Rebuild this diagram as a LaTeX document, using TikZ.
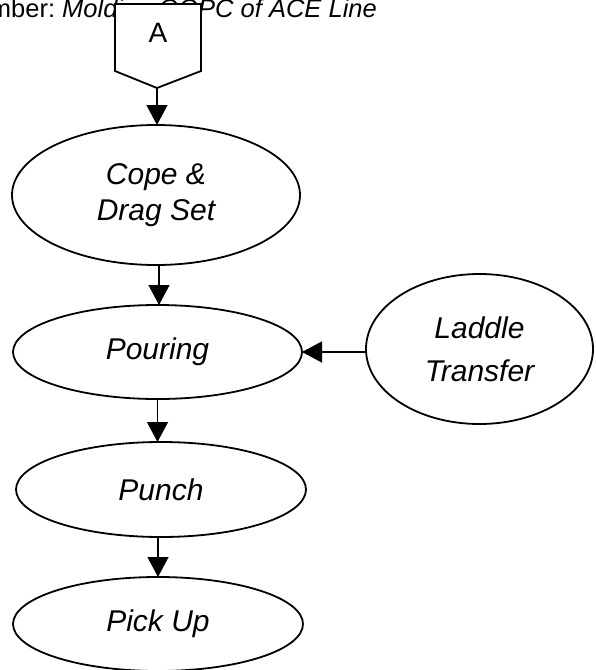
\documentclass[tikz,border=0pt]{standalone}
\usepackage{fontspec}
\setmainfont{Liberation Sans}
\usetikzlibrary{shapes.geometric,arrows.meta}

\tikzset{
  stage/.style={ellipse, draw, line width=1.8pt, fill=white, inner sep=0pt, outer sep=0pt,
    align=center, font=\fontsize{30}{36}\selectfont\itshape},
  flow/.style={line width=1.3pt, -{Triangle[width=21pt,length=20pt]}},
  connector/.style={line width=1.8pt, fill=white, line join=miter},
}

\begin{document}
\begin{tikzpicture}[x=1pt,y=-1pt]
  \useasboundingbox (0,0) rectangle (595,670);
  \clip (0,0) rectangle (595,670);

  % page heading (runs under the off-page connector)
  \node[anchor=base west, inner sep=0pt, font=\fontsize{25.5}{30}\selectfont]
    (heading) at (62,17) {\llap{Number:\ }\textit{Molding OOPC of ACE Line}};

  % off-page connector "A"
  \draw[connector] (115,4) -- (201,4) -- (201,71) -- (157,88) -- (115,71) -- cycle;
  \node[font=\fontsize{28}{30}\selectfont, inner sep=0pt] (A) at (158,33) {A};
  \coordinate (Atip) at (157,88);

  % process stages
  \node[stage, minimum width=288pt, minimum height=140pt] (cope) at (156,195) {Cope \&\\Drag Set};
  \node[stage, minimum width=289pt, minimum height=94pt] (pour) at (157.5,352) {Pouring};
  \node[stage, minimum width=227pt, minimum height=150pt, font=\fontsize{30}{43}\selectfont\itshape]
    (ladle) at (479.5,349) {Laddle\\Transfer};
  \node[stage, minimum width=290pt, minimum height=95pt] (punch) at (161,489.5) {Punch};
  \node[stage, minimum width=290pt, minimum height=94pt] (pick) at (158,624) {Pick Up};

  % flow
  \draw[flow] (Atip) -- (Atip |- cope.north);
  \draw[flow] ([xshift=3pt]cope.south) -- ([xshift=3pt]cope.south |- pour.north);
  \draw[flow] (ladle.west |- pour.east) -- (pour.east);
  \draw[flow] (pour.south) -- (pour.south |- punch.north);
  \draw[flow] (punch.south -| pick.north) -- (pick.north);
\end{tikzpicture}
\end{document}
